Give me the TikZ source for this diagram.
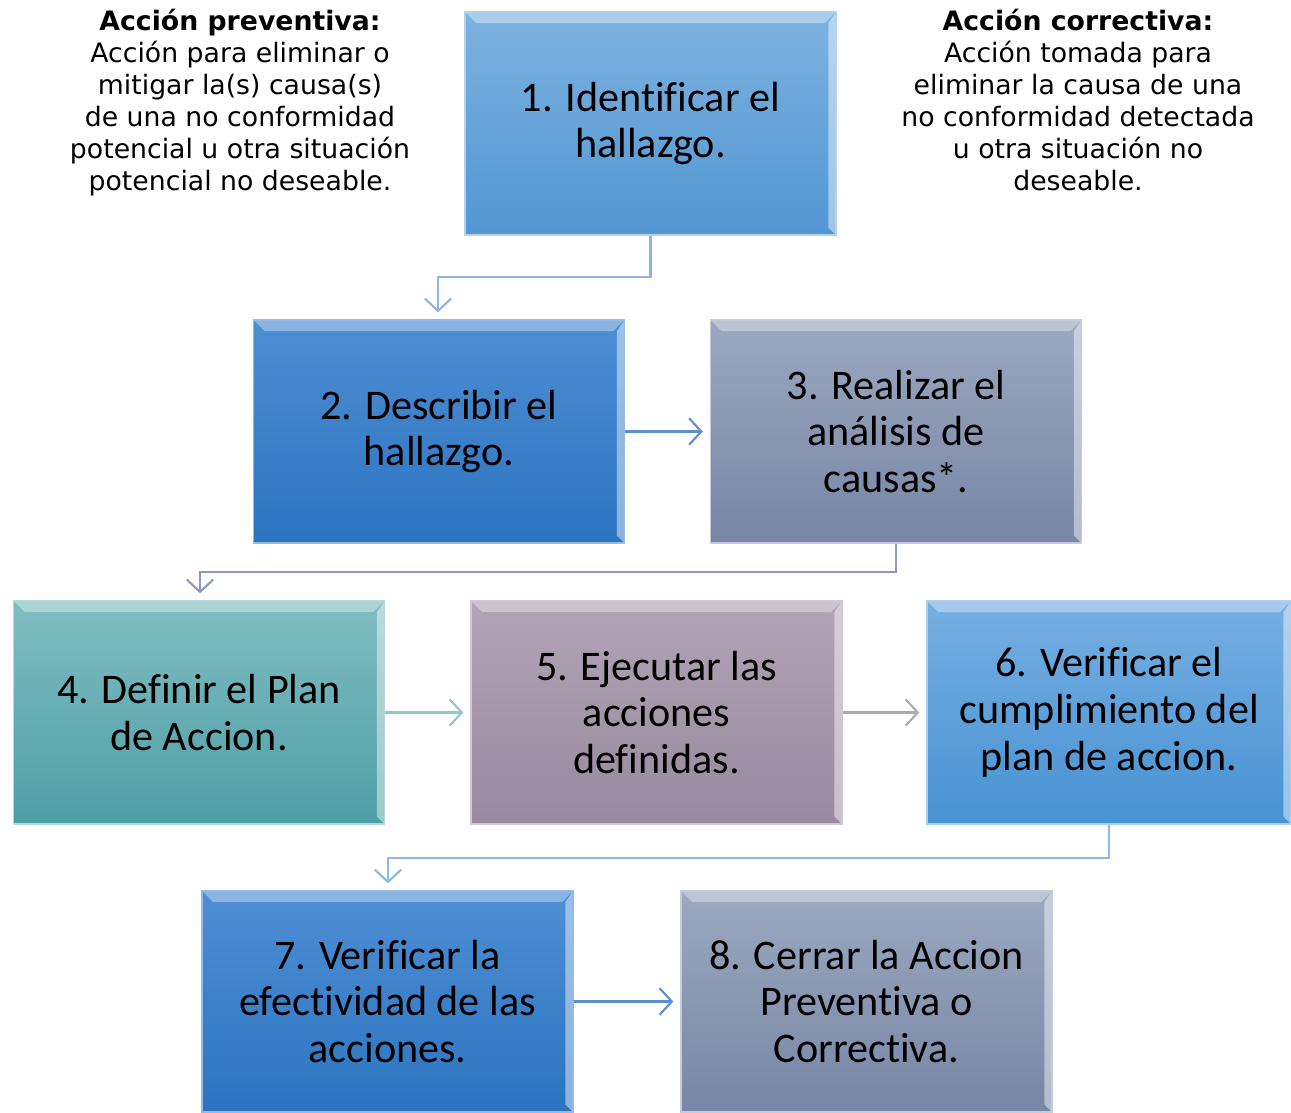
\documentclass[tikz,border=0pt]{standalone}
\usepackage{fontspec}
\setmainfont{DejaVu Sans}
\newfontfamily\boxfont[Ligatures=NoCommon]{Carlito}
\usepackage{tikz}
\usetikzlibrary{calc, arrows.meta, positioning}

\definecolor{azulA}{RGB}{125,178,224}
\definecolor{azulAb}{RGB}{82,150,210}
\definecolor{azulB}{RGB}{78,142,212}
\definecolor{azulBb}{RGB}{44,116,192}
\definecolor{grisA}{RGB}{156,168,192}
\definecolor{grisAb}{RGB}{118,134,164}
\definecolor{tealA}{RGB}{128,190,194}
\definecolor{tealAb}{RGB}{78,158,166}
\definecolor{malvaA}{RGB}{178,164,182}
\definecolor{malvaAb}{RGB}{152,138,158}
\definecolor{azulC}{RGB}{118,175,226}
\definecolor{azulCb}{RGB}{72,146,211}
\definecolor{lin1}{RGB}{141,180,226}
\definecolor{lin2}{RGB}{91,143,208}
\definecolor{lin3}{RGB}{138,154,192}
\definecolor{lin4}{RGB}{140,200,204}
\definecolor{lin5}{RGB}{176,164,184}
\definecolor{lin6}{RGB}{141,184,232}

\begin{document}
\begin{tikzpicture}[x=0.02cm, y=-0.02cm,
		paso/.style 2 args={rectangle, minimum width=7.42cm, minimum height=4.46cm,
			top color=#1, bottom color=#2, draw=#1!60!white, line width=0.8pt,
			align=center, font=\boxfont\fontsize{24}{26.7}\selectfont, text=black,
			path picture={
				\fill[white, opacity=.35] (path picture bounding box.north west) -- (path picture bounding box.north east)
					-- ([shift={(-0.22cm,-0.22cm)}]path picture bounding box.north east) -- ([shift={(0.22cm,-0.22cm)}]path picture bounding box.north west) -- cycle;
				\fill[white, opacity=.45] (path picture bounding box.north east) -- (path picture bounding box.south east)
					-- ([shift={(-0.15cm,0.15cm)}]path picture bounding box.south east) -- ([shift={(-0.15cm,-0.22cm)}]path picture bounding box.north east) -- cycle;
			}},
		flecha/.style={draw=#1, line width=1.2pt, -{Straight Barb[length=7pt, width=15pt]}, shorten >=0.14cm},
		nota/.style={align=center, font=\fontsize{15.2}{18.2}\selectfont}]
	\useasboundingbox (0,0) rectangle (1291,1112);

	% definiciones
	\node[nota] (prev) at (240,103) {\textbf{Acción preventiva:}\\Acción para eliminar o\\mitigar la(s) causa(s)\\de una no conformidad\\potencial u otra situación\\potencial no deseable.};
	\node[nota] (corr) at (1078,100) {\textbf{Acción correctiva:}\\Acción tomada para\\eliminar la causa de una\\no conformidad detectada\\u otra situación no\\deseable.};

	% pasos
	\node[paso={azulA}{azulAb}] (p1) at (650.5,123.5) {1. Identificar el\\hallazgo.};
	\node[paso={azulB}{azulBb}] (p2) at (439,431.5) {2. Describir el\\hallazgo.};
	\node[paso={grisA}{grisAb}] (p3) at (896,431.5) {3. Realizar el\\análisis de\\causas*.};
	\node[paso={tealA}{tealAb}] (p4) at (199,712.5) {4. Definir el Plan\\de Accion.};
	\node[paso={malvaA}{malvaAb}] (p5) at (656.5,712.5) {5. Ejecutar las\\acciones\\definidas.};
	\node[paso={azulC}{azulCb}, minimum width=7.28cm] (p6) at (1109,712.5) {6. Verificar el\\cumplimiento del\\plan de accion.};
	\node[paso={azulB}{azulBb}, minimum height=4.42cm] (p7) at (387.5,1001.5) {7. Verificar la\\efectividad de las\\acciones.};
	\node[paso={grisA}{grisAb}, minimum height=4.42cm] (p8) at (866.5,1001.5) {8. Cerrar la Accion\\Preventiva o\\Correctiva.};

	% conectores
	\draw[flecha=lin1] (p1.south) |- (438,277) -- (p2.north -| 438,0);
	\draw[flecha=lin2] (p2) -- (p3);
	\draw[flecha=lin3] (p3.south) |- (200,572) -- (p4.north -| 200,0);
	\draw[flecha=lin4] (p4) -- (p5);
	\draw[flecha=lin5] (p5) -- (p6);
	\draw[flecha=lin6] (p6.south) |- (388,858) -- (p7.north -| 388,0);
	\draw[flecha=lin2] (p7) -- (p8);
\end{tikzpicture}
\end{document}
